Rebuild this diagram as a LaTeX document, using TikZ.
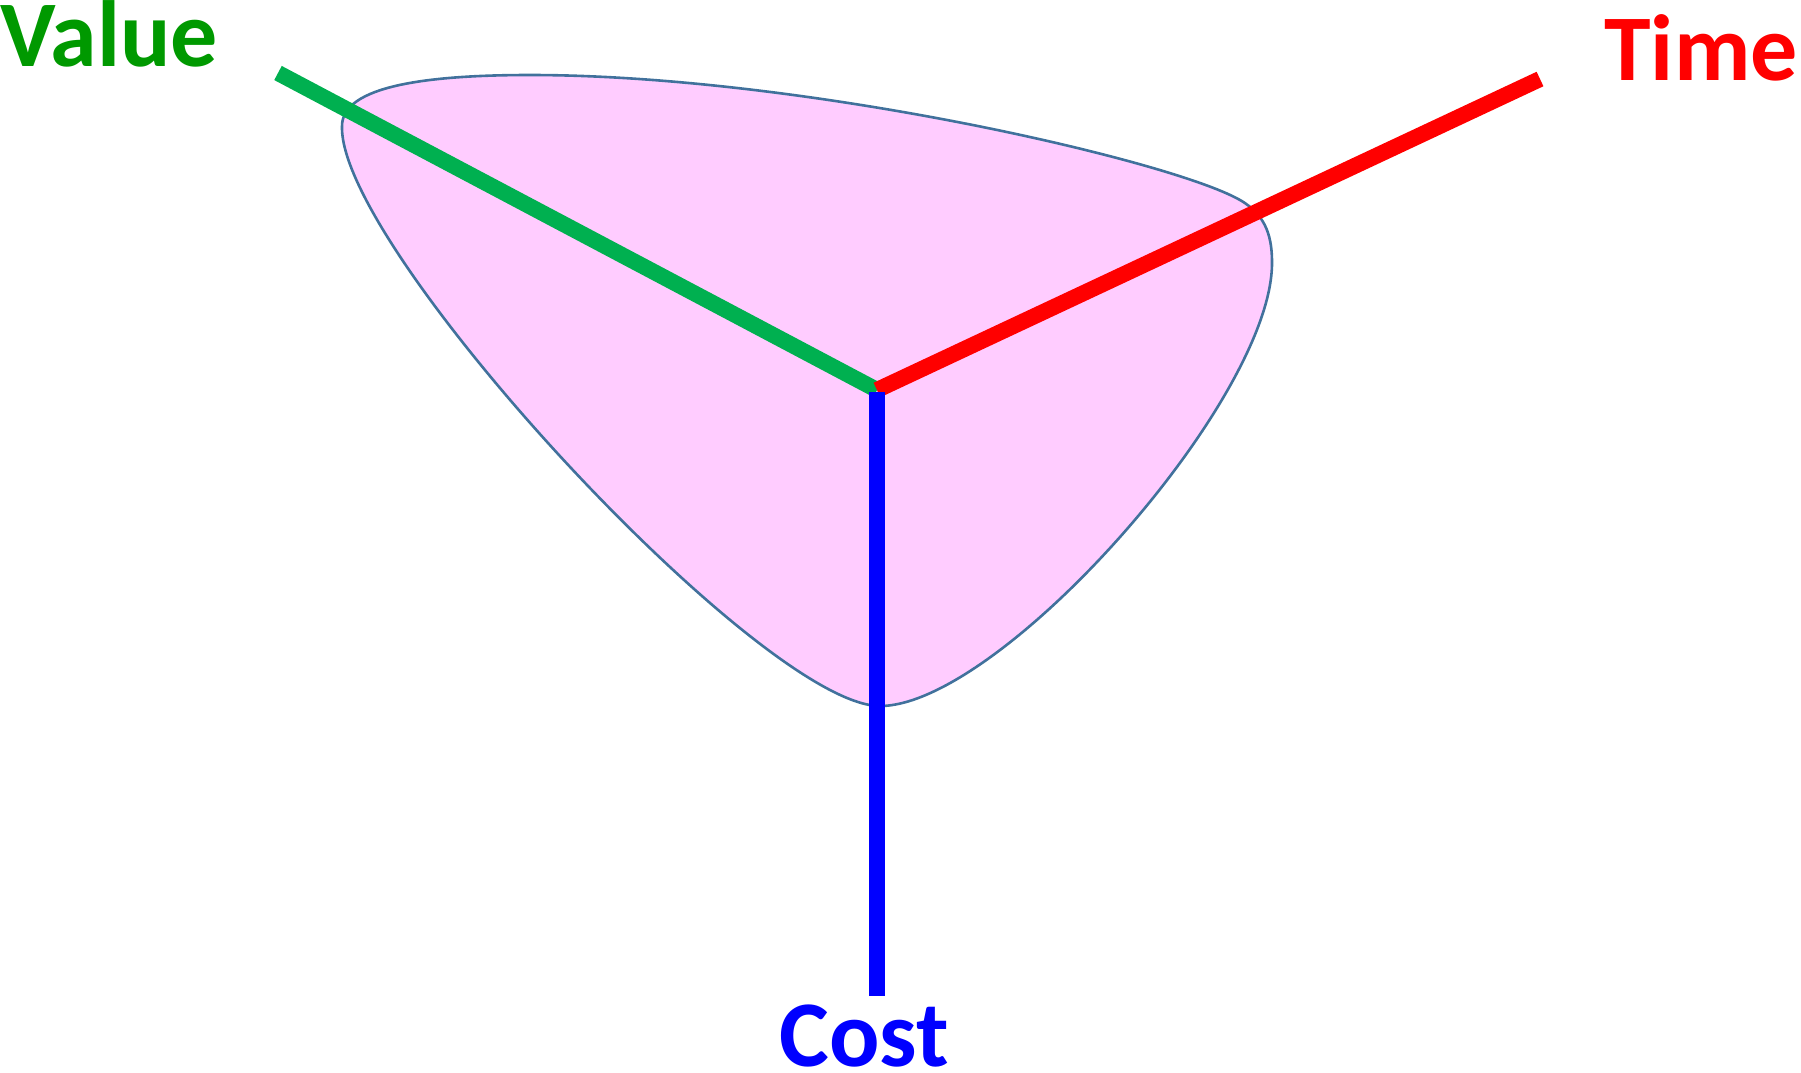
\documentclass[tikz,border=0pt]{standalone}
\usepackage{fontspec}
\setmainfont{Carlito}
\definecolor{blobfill}{HTML}{FFCCFF}
\definecolor{blobedge}{HTML}{41719C}
\definecolor{valgreen}{HTML}{00B050}
\definecolor{valtext}{HTML}{009900}
\begin{document}
\begin{tikzpicture}[x=1pt,y=-1pt,
  axis/.style={line width=16pt},
  lbl/.style={inner sep=0pt,font=\fontsize{94}{110}\selectfont\bfseries}]
\useasboundingbox (0,0) rectangle (1801,1072);
% blob
\draw[fill=blobfill,draw=blobedge,line width=2.6pt]
  (342,127) .. controls (341,90) and (410,75) .. (530,75)
  .. controls (800,75) and (1170,160) .. (1240,200)
  .. controls (1268,216) and (1272,240) .. (1272,263)
  .. controls (1272,400) and (1000,706) .. (880,706)
  .. controls (762,706) and (340,250) .. (342,127) -- cycle;
% axis ends
\coordinate (c) at (877,390);
\coordinate (ctop) at (877,392);
\coordinate (v) at (278,73);
\coordinate (t) at (1540,79);
\coordinate (b) at (877,996);
\draw[axis,valgreen] (v) -- (c);
\draw[axis,red] (c) -- (t);
\draw[axis,blue] (ctop) -- (b);
% labels
\node[lbl,text=valtext,anchor=base west] (value) at (0,66) {Value};
\node[lbl,text=red,anchor=base east] (time) at (1798,80) {Time};
\node[lbl,text=blue,anchor=base] (cost) at (864,1066) {Cost};
\end{tikzpicture}
\end{document}
